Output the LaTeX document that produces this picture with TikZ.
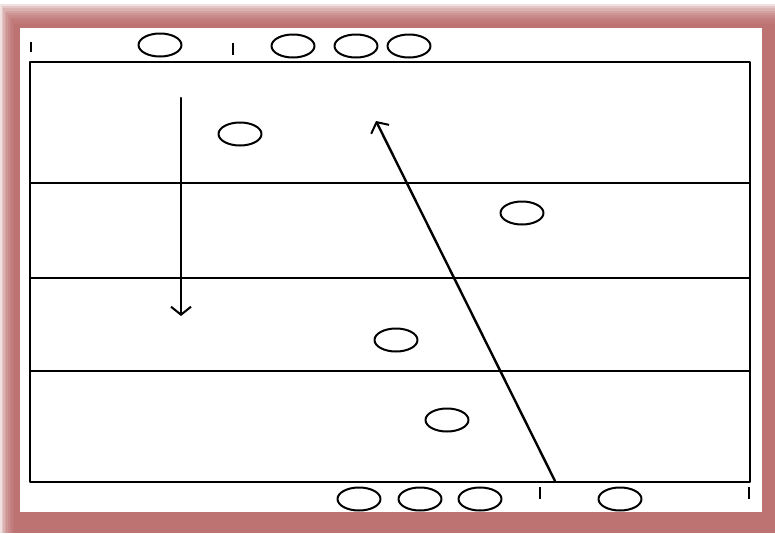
\documentclass[tikz,border=0pt]{standalone}
\usetikzlibrary{shapes.geometric,arrows.meta}
\definecolor{cadre}{RGB}{182,98,98}
\begin{document}
\begin{tikzpicture}[line cap=round,line join=round,x=1pt,y=-1pt,
	joueur/.style={draw, ellipse, line width=2pt, minimum width=43pt, minimum height=23pt, inner sep=0pt},
	trait/.style={line width=1.8pt},
	repere/.style={line width=2.4pt, line cap=butt},
	fleche/.style={line width=2.4pt, -{Straight Barb[length=8pt,width=20pt,line width=2pt]}}]
	\useasboundingbox (0,0) rectangle (775,533);
	%cadre
	\foreach \k in {0,...,9}
		\fill[cadre, opacity=0.2] (\k*1.6, 4+\k*2.2) rectangle (775,533);
	\fill[white] (20,28) rectangle (762,512);
	%terrain
	\draw[line width=2.5pt] (30,62) rectangle (750,482);
	\draw[trait] (30,183) -- (750,183);
	\draw[trait] (30,278) -- (750,278);
	\draw[trait] (30,371) -- (750,371);
	%reperes
	\draw[repere] (31,42) -- (31,52);
	\draw[repere] (233,43) -- (233,55);
	\draw[repere] (540,487) -- (540,499);
	\draw[repere] (749,487) -- (749,499);
	%joueurs
	\node[joueur] (h1) at (160,45) {};
	\node[joueur] (h2) at (293,46) {};
	\node[joueur] (h3) at (356,46) {};
	\node[joueur] (h4) at (409,46) {};
	\node[joueur] (t1) at (240,134) {};
	\node[joueur] (t2) at (522,213) {};
	\node[joueur] (t3) at (396,340) {};
	\node[joueur] (t4) at (447,420) {};
	\node[joueur] (b1) at (359,499) {};
	\node[joueur] (b2) at (420,499) {};
	\node[joueur] (b3) at (480,499) {};
	\node[joueur] (b4) at (620,499) {};
	%deplacements
	\coordinate (d1) at (181,98);
	\coordinate (d2) at (181,316);
	\coordinate (m1) at (555,481);
	\coordinate (m2) at (376,121);
	\draw[fleche] (d1) -- (d2);
	\draw[fleche] (m1) -- (m2);
\end{tikzpicture}
\end{document}
